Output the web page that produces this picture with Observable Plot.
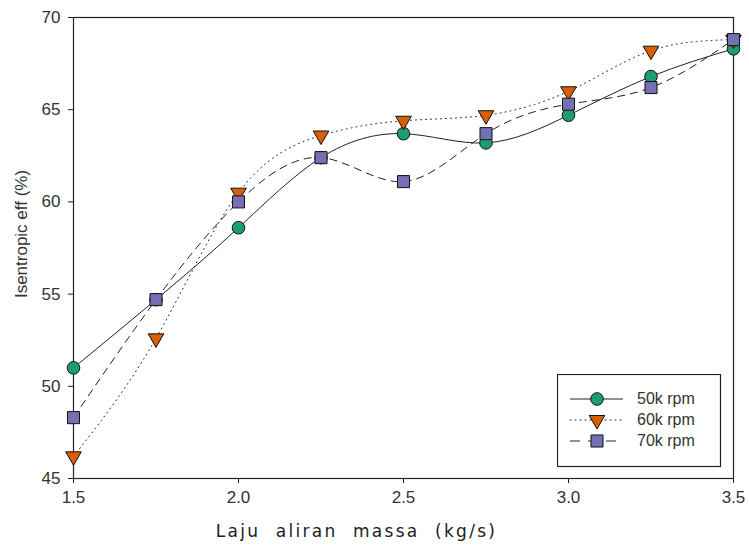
<!DOCTYPE html>
<html>
<head>
<meta charset="utf-8">
<script src="https://cdn.jsdelivr.net/npm/d3@7"></script>
<script src="https://cdn.jsdelivr.net/npm/@observablehq/plot@0.6"></script>
<style>
  body { margin: 0; background: #fff; }
  #wrap { position: relative; width: 749px; height: 550px; }
  #legend { position: absolute; left: 557px; top: 374px; }
</style>
</head>
<body>
<div id="wrap"></div>
<script>
const massFlow = [1.5, 1.75, 2.0, 2.25, 2.5, 2.75, 3.0, 3.25, 3.5];
const rpm50 = [51.0, 54.7, 58.6, 62.4, 63.7, 63.2, 64.7, 66.8, 68.3];
const rpm60 = [46.2, 52.6, 60.5, 63.6, 64.4, 64.7, 66.0, 68.2, 68.8];
const rpm70 = [48.3, 54.7, 60.0, 62.4, 61.1, 63.7, 65.3, 66.2, 68.8];
const seriesNames = ["50k rpm", "60k rpm", "70k rpm"];
const xTicks = [1.5, 2.0, 2.5, 3.0, 3.5];
const yTicks = [45, 50, 55, 60, 65, 70];
const xLabel = "Laju  aliran  massa  (kg/s)";
const yLabel = "Isentropic eff (%)";

const styles = {
  "50k rpm": {fill: "#1b9e77", symbol: "circle", r: 6.3, rotate: 0, dash: null},
  "60k rpm": {fill: "#d95f02", symbol: "triangle", r: 5.8, rotate: 180, dash: "1,4"},
  "70k rpm": {fill: "#7570b3", symbol: "square", r: 6.8, rotate: 0, dash: "8,5"}
};

const seriesValues = [rpm50, rpm60, rpm70];
const data = seriesNames.map((name, i) => massFlow.map((x, j) => ({series: name, x, y: seriesValues[i][j]})));

const marks = [];
data.forEach(d => {
  const s = styles[d[0].series];
  marks.push(Plot.line(d, {x: "x", y: "y", curve: "natural", stroke: "#222", strokeWidth: 1,
    strokeDasharray: s.dash, strokeLinecap: s.dash === "1,4" ? "round" : "butt"}));
});
data.forEach(d => {
  const s = styles[d[0].series];
  marks.push(Plot.dot(d, {x: "x", y: "y", symbol: () => s.symbol, r: s.r, rotate: s.rotate,
    fill: s.fill, stroke: "#111", strokeWidth: 1}));
});

const chart = Plot.plot({
  width: 749,
  height: 550,
  marginLeft: 73,
  marginRight: 16,
  marginTop: 17,
  marginBottom: 72,
  style: {fontFamily: "Liberation Sans, Arial, sans-serif", color: "#333", background: "#fff"},
  x: {domain: [1.5, 3.5]},
  y: {domain: [45, 70]},
  symbol: {type: "identity"},
  marks: [
    Plot.axisX({ticks: xTicks, tickFormat: d3.format(".1f"), tickSize: 5, tickPadding: 7, label: null, stroke: "#222", fill: "#333", fontSize: 17}),
    Plot.axisY({ticks: yTicks, tickSize: 5, tickPadding: 8, label: null, stroke: "#222", fill: "#333", fontSize: 17}),
    Plot.text([xLabel], {text: d => d, frameAnchor: "bottom", dx: -47, dy: 58, fontSize: 17,
      fontFamily: "DejaVu Sans, sans-serif", fill: "#222", lineAnchor: "bottom"}),
    Plot.text([yLabel], {text: d => d, frameAnchor: "left", textAnchor: "middle", rotate: -90, dx: -52, dy: -14, fontSize: 17,
      fill: "#333", lineAnchor: "middle"}),
    Plot.frame({stroke: "#222", strokeWidth: 1.2}),
    ...marks
  ]
});

const svg = d3.select(chart);
svg.selectAll("text").filter(function() { return this.textContent === xLabel; })
  .style("letter-spacing", "2.3px");
svg.selectAll("g[aria-label='x-axis tick label'] text, g[aria-label='y-axis tick label'] text")
  .style("font-size", "17px");

document.getElementById("wrap").appendChild(chart);

// legend overlay
const lg = d3.select("#wrap").append("svg").attr("id", "legend")
  .attr("width", 166).attr("height", 95);
lg.append("rect").attr("x", 0.5).attr("y", 0.5).attr("width", 163).attr("height", 92)
  .attr("fill", "#fff").attr("stroke", "#222").attr("stroke-width", 1.2);
seriesNames.forEach((name, i) => {
  const s = styles[name];
  const yy = 25 + i * 21;
  lg.append("line").attr("x1", 13).attr("x2", 66).attr("y1", yy).attr("y2", yy)
    .attr("stroke", "#222").attr("stroke-width", 1)
    .attr("stroke-dasharray", s.dash === "8,5" ? "10,8" : s.dash)
    .attr("stroke-linecap", s.dash === "1,4" ? "round" : "butt");
  const symType = {circle: d3.symbolCircle, triangle: d3.symbolTriangle, square: d3.symbolSquare}[s.symbol];
  lg.append("path").attr("d", d3.symbol(symType, Math.PI * s.r * s.r)())
    .attr("transform", `translate(40,${yy}) rotate(${s.rotate})`)
    .attr("fill", s.fill).attr("stroke", "#111").attr("stroke-width", 1);
  lg.append("text").attr("x", 80).attr("y", yy + 5).text(name)
    .attr("font-family", "Liberation Sans, Arial, sans-serif").attr("font-size", 16).attr("fill", "#333");
});
</script>
</body>
</html>
